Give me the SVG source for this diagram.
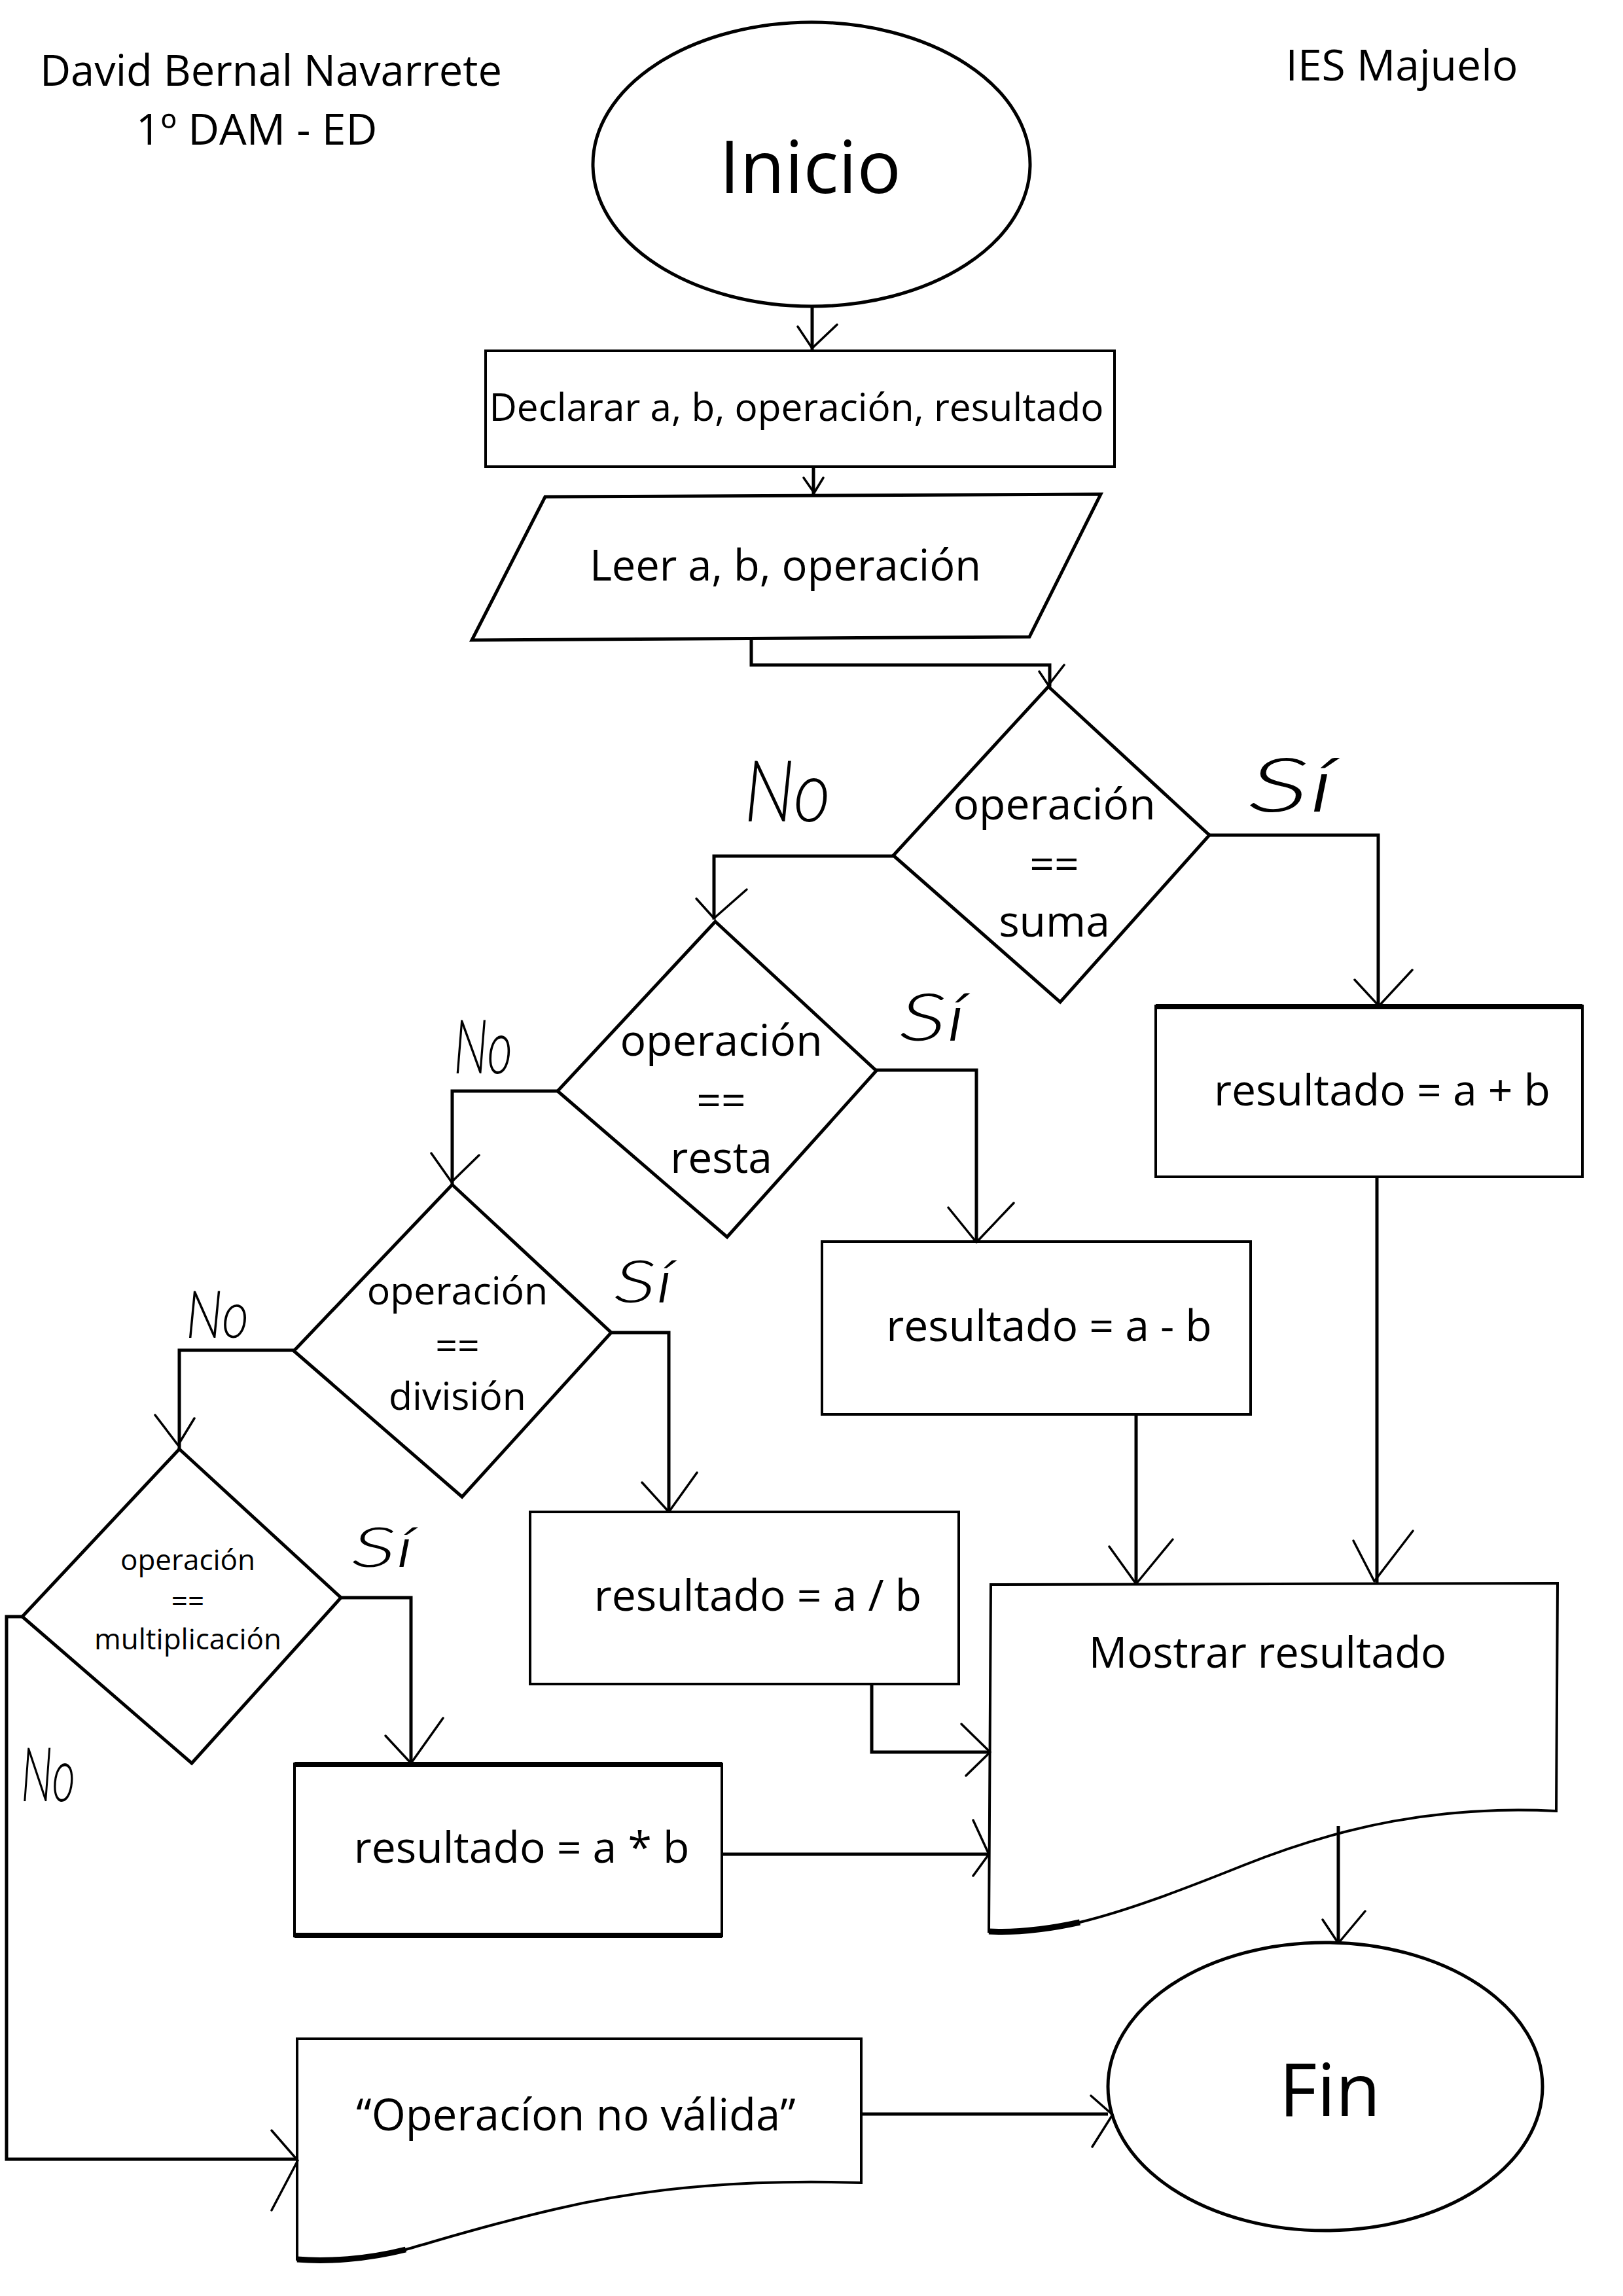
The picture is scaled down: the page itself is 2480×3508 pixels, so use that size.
<svg xmlns="http://www.w3.org/2000/svg" width="2480" height="3508" viewBox="0 0 2480 3508">
<style>
.shape{fill:#fff;stroke:#000;stroke-width:5;stroke-linejoin:miter}
.box{fill:#fff;stroke:#000;stroke-width:4}
.thick{fill:none;stroke:#000;stroke-width:8}
.conn{fill:none;stroke:#000;stroke-width:5;stroke-linejoin:miter}
.ah{fill:none;stroke:#000;stroke-width:3.5;stroke-linecap:round;stroke-linejoin:round}
.t{font-family:"Open Sans","Noto Sans","DejaVu Sans",sans-serif;fill:#000;text-anchor:middle}
.hw{font-family:"Lato","Inter","Noto Sans",sans-serif;font-weight:300;font-style:italic;fill:#000}
</style>
<rect width="2480" height="3508" fill="#fff"/>
<g id="header">
<text class="t" x="414" y="131" font-size="65">David Bernal Navarrete</text>
<text class="t" x="392" y="221" font-size="66">1º DAM - ED</text>
<text class="t" x="2142" y="123" font-size="66">IES Majuelo</text>
</g>
<g id="inicio">
<ellipse class="shape" cx="1240" cy="251" rx="334" ry="217" stroke-width="6"/>
<text class="t" x="1238" y="295" font-size="112">Inicio</text>
</g>
<g id="declarar">
<rect class="box" x="742" y="536" width="961" height="177" stroke-width="3.5"/>
<text class="t" x="1217" y="643" font-size="58.5">Declarar a, b, operación, resultado</text>
</g>
<g id="leer">
<polygon class="shape" points="833,759 1682,755 1573,973 721,978"/>
<text class="t" x="1200" y="887" font-size="65">Leer a, b, operación</text>
</g>
<g id="dec-suma">
<polygon class="shape" points="1602,1049 1848,1276 1620,1531 1365,1307"/>
<text class="t" x="1611" y="1252" font-size="66">operación</text>
<text class="t" x="1611" y="1343" font-size="66">==</text>
<text class="t" x="1611" y="1431" font-size="66">suma</text>
</g>
<g id="dec-resta">
<polygon class="shape" points="1093,1408 1339,1636 1111,1890 852,1667"/>
<text class="t" x="1102" y="1613" font-size="66">operación</text>
<text class="t" x="1102" y="1704" font-size="66">==</text>
<text class="t" x="1102" y="1792" font-size="66">resta</text>
</g>
<g id="dec-division">
<polygon class="shape" points="691,1810 934,2036 706,2287 449,2064"/>
<text class="t" x="699" y="1993" font-size="59">operación</text>
<text class="t" x="699" y="2077" font-size="59">==</text>
<text class="t" x="699" y="2154" font-size="59">división</text>
</g>
<g id="dec-mult">
<polygon class="shape" points="274,2214 521,2441 293,2694 34,2470"/>
<text class="t" x="287" y="2399" font-size="44">operación</text>
<text class="t" x="287" y="2462" font-size="44">==</text>
<text class="t" x="287" y="2520" font-size="44">multiplicación</text>
</g>
<g id="res-suma">
<rect class="box" x="1766" y="1537" width="652" height="261"/>
<line class="thick" x1="1766" y1="1538" x2="2418" y2="1538"/>
<text class="t" x="2112" y="1689" font-size="66">resultado = a + b</text>
</g>
<g id="res-resta">
<rect class="box" x="1256" y="1897" width="655" height="264"/>
<text class="t" x="1603" y="2049" font-size="66">resultado = a - b</text>
</g>
<g id="res-division">
<rect class="box" x="810" y="2310" width="655" height="263"/>
<text class="t" x="1158" y="2461" font-size="66">resultado = a / b</text>
</g>
<g id="res-mult">
<rect class="box" x="450" y="2695" width="653" height="263"/>
<line class="thick" x1="450" y1="2696" x2="1103" y2="2696"/>
<line class="thick" x1="450" y1="2957" x2="1103" y2="2957"/>
<text class="t" x="797" y="2846" font-size="66">resultado = a * b</text>
</g>
<g id="mostrar">
<path class="box" d="M1514,2421 L2380,2419 L2378,2767 C2200,2758 2050,2790 1900,2850 C1800,2890 1720,2920 1650,2937 C1600,2948 1550,2953 1511,2951 Z" stroke-width="5"/>
<path d="M1650,2937 C1600,2948 1550,2953 1511,2951" fill="none" stroke="#000" stroke-width="9"/>
<text class="t" x="1937" y="2548" font-size="65">Mostrar resultado</text>
</g>
<g id="no-valida">
<path class="box" d="M454,3115 L1316,3115 L1316,3335 C1150,3330 1000,3340 850,3375 C750,3398 680,3420 620,3437 C560,3452 500,3456 454,3452 Z" stroke-width="5"/>
<path d="M620,3437 C560,3452 500,3456 454,3452" fill="none" stroke="#000" stroke-width="9"/>
<text class="t" x="880" y="3255" font-size="67">“Operacíon no válida”</text>
</g>
<g id="fin">
<ellipse class="shape" cx="2025" cy="3188" rx="332" ry="220"/>
<text class="t" x="2032" y="3233" font-size="112">Fin</text>
</g>
<g id="connectors">
<path class="conn" d="M1241,469 V536"/>
<polyline class="ah" points="1219,499 1241,532 1279,496"/>
<path class="conn" d="M1243,713 V757"/>
<polyline class="ah" points="1228,730 1244,753 1258,730"/>
<path class="conn" d="M1148,976 V1016 H1604 V1049"/>
<polyline class="ah" points="1588,1026 1602,1047 1626,1016"/>
<path class="conn" d="M1365,1308 H1091 V1405"/>
<polyline class="ah" points="1064,1373 1091,1403 1141,1359"/>
<path class="conn" d="M1848,1276 H2106 V1537"/>
<polyline class="ah" points="2070,1497 2107,1537 2158,1482"/>
<path class="conn" d="M2104,1798 V2419"/>
<polyline class="ah" points="2068,2354 2100,2416 2159,2339"/>
<path class="conn" d="M852,1667 H691 V1810"/>
<polyline class="ah" points="659,1762 690,1806 732,1765"/>
<path class="conn" d="M1339,1635 H1492 V1898"/>
<polyline class="ah" points="1449,1845 1492,1898 1549,1838"/>
<path class="conn" d="M1736,2161 V2421"/>
<polyline class="ah" points="1695,2363 1736,2420 1792,2352"/>
<path class="conn" d="M449,2063 H274 V2214"/>
<polyline class="ah" points="237,2162 272,2208 297,2167"/>
<path class="conn" d="M934,2036 H1022 V2310"/>
<polyline class="ah" points="981,2265 1022,2310 1065,2250"/>
<path class="conn" d="M1332,2573 V2677 H1512"/>
<polyline class="ah" points="1469,2634 1513,2677 1476,2713"/>
<path class="conn" d="M521,2441 H628 V2695"/>
<polyline class="ah" points="589,2652 628,2694 677,2625"/>
<path class="conn" d="M1103,2833 H1511"/>
<polyline class="ah" points="1487,2781 1511,2833 1487,2866"/>
<path class="conn" d="M34,2470 H10 V3299 H455"/>
<polyline class="ah" points="415,3255 455,3301 415,3377"/>
<path class="conn" d="M2045,2790 V2968"/>
<polyline class="ah" points="2021,2933 2045,2969 2086,2920"/>
<path class="conn" d="M1316,3230 H1693"/>
<polyline class="ah" points="1667,3202 1700,3231 1669,3280"/>
</g>
<g id="labels">
<text class="hw" x="1137" y="1255" font-size="130" textLength="132" lengthAdjust="spacingAndGlyphs">No</text>
<text class="hw" x="1907" y="1240" font-size="115" textLength="132" lengthAdjust="spacingAndGlyphs">Sí</text>
<text class="hw" x="693" y="1640" font-size="115" textLength="90" lengthAdjust="spacingAndGlyphs">No</text>
<text class="hw" x="1374" y="1590" font-size="100" textLength="102" lengthAdjust="spacingAndGlyphs">Sí</text>
<text class="hw" x="284" y="2044" font-size="100" textLength="96" lengthAdjust="spacingAndGlyphs">No</text>
<text class="hw" x="938" y="1990" font-size="90" textLength="91" lengthAdjust="spacingAndGlyphs">Sí</text>
<text class="hw" x="537" y="2394" font-size="85" textLength="96" lengthAdjust="spacingAndGlyphs">Sí</text>
<text class="hw" x="32" y="2752" font-size="115" textLength="83" lengthAdjust="spacingAndGlyphs">No</text>
</g>
</svg>
